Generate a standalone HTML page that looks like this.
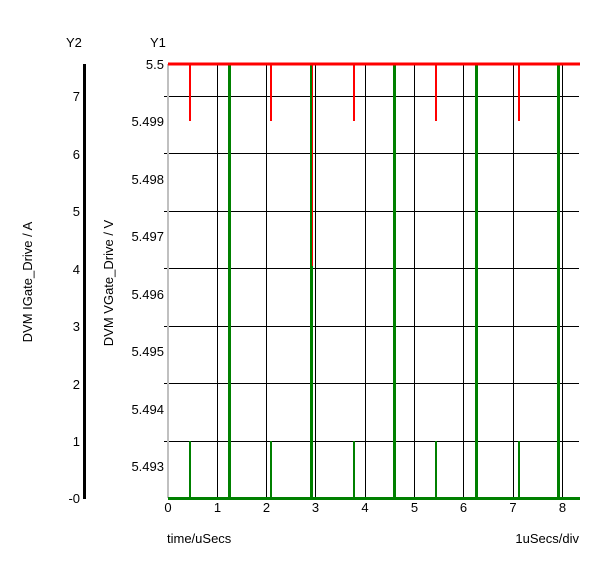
<!DOCTYPE html>
<html><head><meta charset="utf-8"><style>
html,body{margin:0;padding:0;background:#fff;}
svg{display:block;font-family:"Liberation Sans",Arial,sans-serif;font-size:13px;}
</style></head><body>
<svg width="600" height="563" viewBox="0 0 600 563" xmlns="http://www.w3.org/2000/svg">
<rect width="600" height="563" fill="#fff"/>
<g stroke="#000" stroke-width="1" shape-rendering="crispEdges">
<line x1="164" y1="96.5" x2="579" y2="96.5"/>
<line x1="164" y1="153.5" x2="579" y2="153.5"/>
<line x1="164" y1="211.5" x2="579" y2="211.5"/>
<line x1="164" y1="268.5" x2="579" y2="268.5"/>
<line x1="164" y1="326.5" x2="579" y2="326.5"/>
<line x1="164" y1="383.5" x2="579" y2="383.5"/>
<line x1="164" y1="441.5" x2="579" y2="441.5"/>
<line x1="217.5" y1="64" x2="217.5" y2="498"/>
<line x1="266.5" y1="64" x2="266.5" y2="498"/>
<line x1="315.5" y1="64" x2="315.5" y2="498"/>
<line x1="365.5" y1="64" x2="365.5" y2="498"/>
<line x1="414.5" y1="64" x2="414.5" y2="498"/>
<line x1="463.5" y1="64" x2="463.5" y2="498"/>
<line x1="513.5" y1="64" x2="513.5" y2="498"/>
<line x1="562.5" y1="64" x2="562.5" y2="498"/>
</g>
<g shape-rendering="crispEdges">
<line x1="168" y1="64" x2="168" y2="498" stroke="#c0c0c0" stroke-width="2"/>
<line x1="84.5" y1="64" x2="84.5" y2="499" stroke="#000" stroke-width="3"/>
<g stroke="#008000" stroke-width="3">
<line x1="229.5" y1="64" x2="229.5" y2="498"/>
<line x1="311.5" y1="64" x2="311.5" y2="498"/>
<line x1="394.5" y1="64" x2="394.5" y2="498"/>
<line x1="476.5" y1="64" x2="476.5" y2="498"/>
<line x1="558.5" y1="64" x2="558.5" y2="498"/>
<line x1="190" y1="441" x2="190" y2="498" stroke-width="2"/>
<line x1="271" y1="441" x2="271" y2="498" stroke-width="2"/>
<line x1="354" y1="441" x2="354" y2="498" stroke-width="2"/>
<line x1="436" y1="441" x2="436" y2="498" stroke-width="2"/>
<line x1="519" y1="441" x2="519" y2="498" stroke-width="2"/>
<line x1="168" y1="498.5" x2="580" y2="498.5"/>
</g>
<g stroke="#ff0000" stroke-width="2">
<line x1="168" y1="64" x2="580" y2="64" stroke-width="3"/>
<line x1="190" y1="64" x2="190" y2="121"/>
<line x1="271" y1="64" x2="271" y2="121"/>
<line x1="354" y1="64" x2="354" y2="121"/>
<line x1="436" y1="64" x2="436" y2="121"/>
<line x1="519" y1="64" x2="519" y2="121"/>
<line x1="312.5" y1="64" x2="312.5" y2="266" stroke-width="1"/>
</g>
</g>
<g fill="#000">
<text x="66" y="47">Y2</text>
<text x="150" y="47">Y1</text>
<g text-anchor="end">
<text x="80" y="101">7</text>
<text x="80" y="159">6</text>
<text x="80" y="216">5</text>
<text x="80" y="274">4</text>
<text x="80" y="331">3</text>
<text x="80" y="389">2</text>
<text x="80" y="446">1</text>
<text x="80" y="503">-0</text>
<text x="164" y="69">5.5</text>
<text x="164" y="126">5.499</text>
<text x="164" y="184">5.498</text>
<text x="164" y="241">5.497</text>
<text x="164" y="299">5.496</text>
<text x="164" y="356">5.495</text>
<text x="164" y="414">5.494</text>
<text x="164" y="471">5.493</text>
</g>
<g text-anchor="middle">
<text x="168" y="512">0</text>
<text x="217.5" y="512">1</text>
<text x="266.5" y="512">2</text>
<text x="315.5" y="512">3</text>
<text x="365" y="512">4</text>
<text x="414.5" y="512">5</text>
<text x="463.5" y="512">6</text>
<text x="513" y="512">7</text>
<text x="562.5" y="512">8</text>
</g>
<text x="167" y="543">time/uSecs</text>
<text x="579" y="543" text-anchor="end">1uSecs/div</text>
<text transform="translate(32,282) rotate(-90)" text-anchor="middle">DVM IGate_Drive / A</text>
<text transform="translate(113,283) rotate(-90)" text-anchor="middle">DVM VGate_Drive / V</text>
</g>
</svg>
</body></html>
